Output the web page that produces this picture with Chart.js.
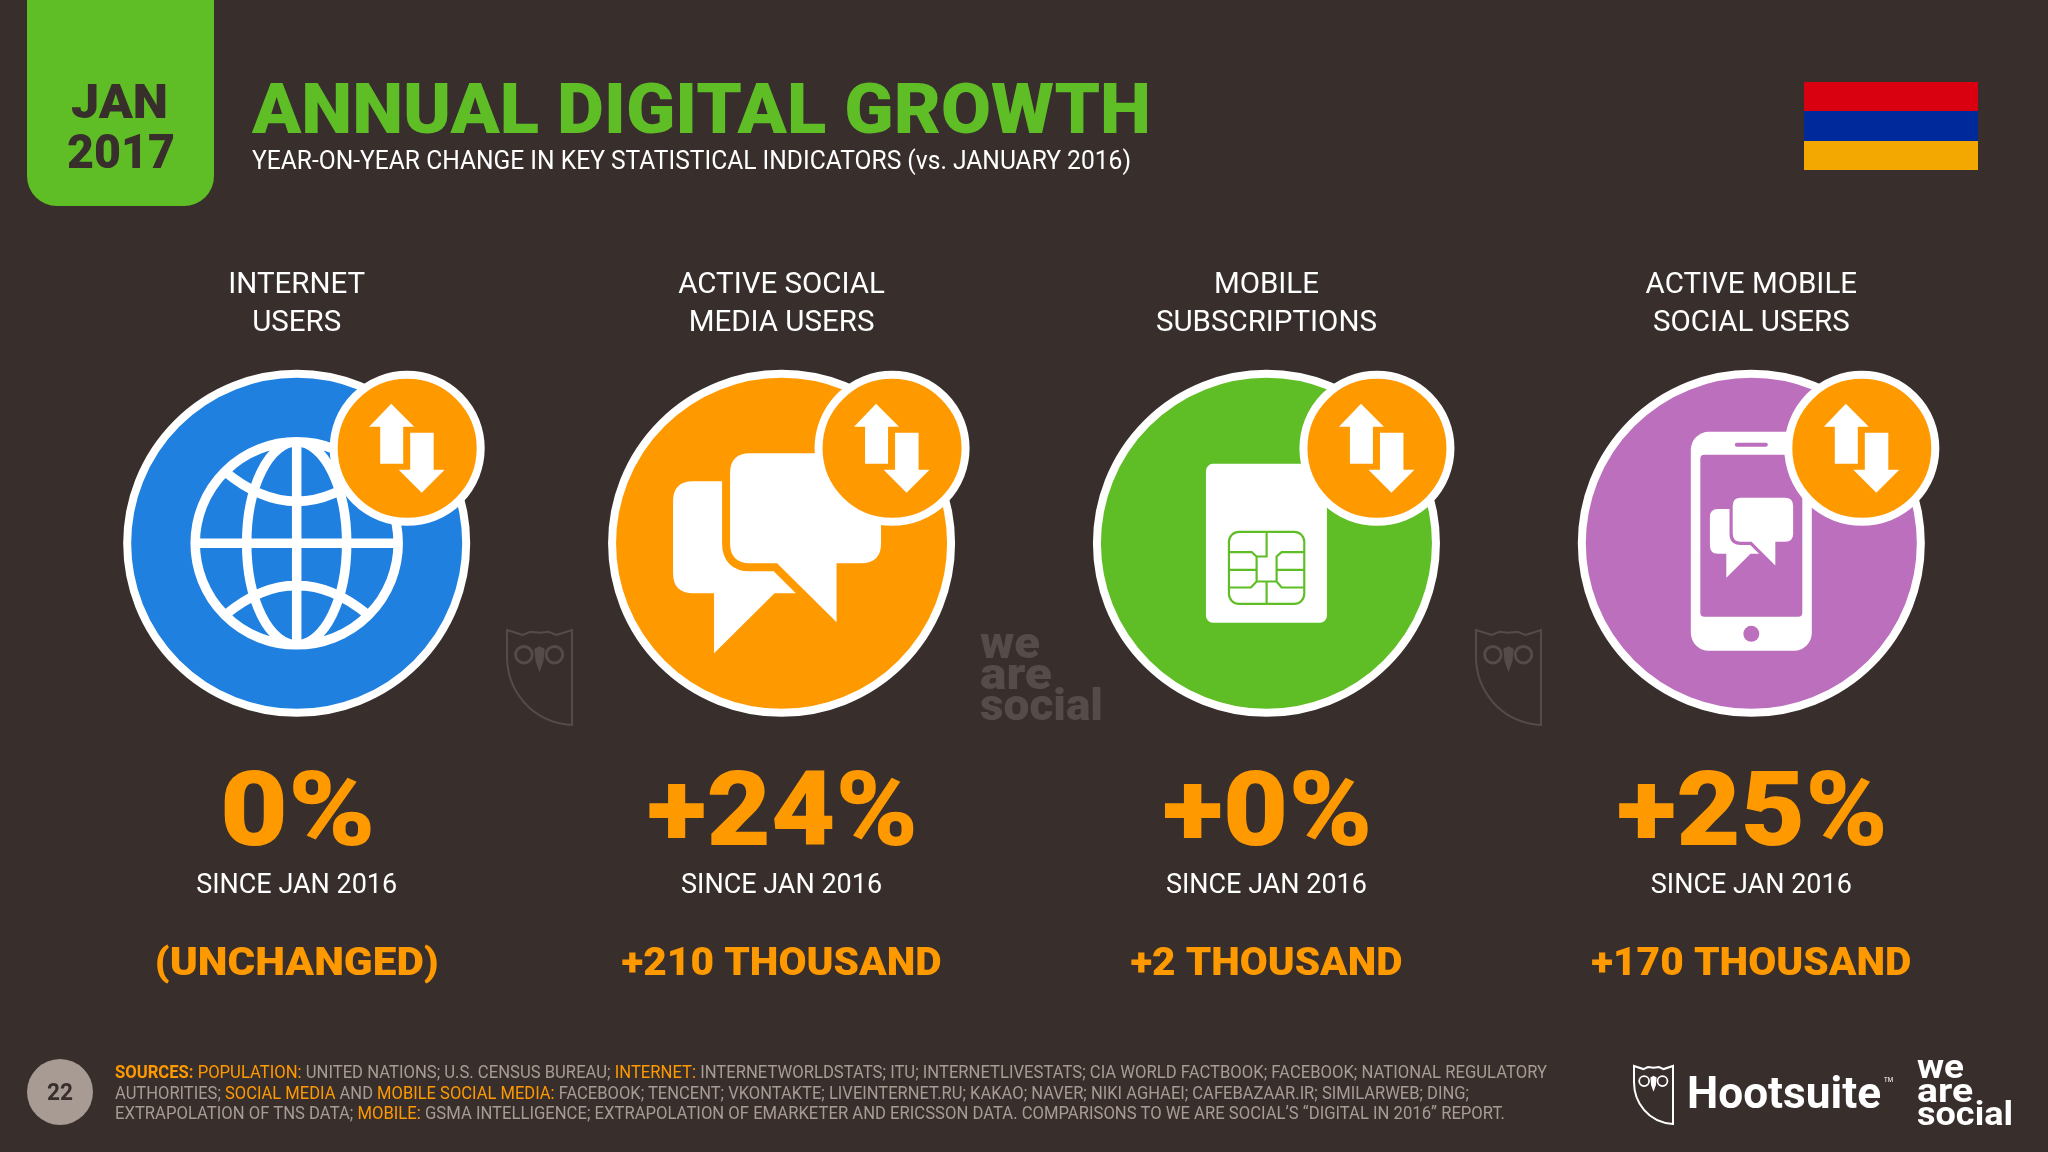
<!DOCTYPE html>
<html>
<head>
<meta charset="utf-8">
<title>Annual Digital Growth</title>
<script src="https://cdn.jsdelivr.net/npm/chart.js@4/dist/chart.umd.min.js"></script>
<style>
    html, body { margin: 0; padding: 0; background: #382f2d; }
    body { width: 2048px; height: 1152px; position: relative; overflow: hidden; font-family: Roboto, sans-serif; }
    canvas { position: absolute; left: 0; top: 0; }
    .t { position: absolute; white-space: nowrap; line-height: 1; transform-origin: left center; }
    .t span { color: #ff9900; }
    .t b { color: #ff9900; font-weight: 700; }
    #date-box { position: absolute; left: 27px; top: 0; width: 187px; height: 206px; background: #5fbd25; border-radius: 0 0 30px 30px; }
    #flag { position: absolute; left: 1804px; top: 82px; width: 174px; height: 88px; }
    #flag div { height: 29.33px; }
    #page-dot { position: absolute; left: 27px; top: 1059px; width: 66px; height: 66px; border-radius: 50%; background: #a79b93; }
</style>
</head>
<body>
<div id="date-box"></div>
<div id="flag">
    <div style="background:#d9000f"></div>
    <div style="background:#00299c"></div>
    <div style="background:#f2a800"></div>
</div>
<div id="page-dot"></div>
<canvas id="growthChart" width="2048" height="1152"></canvas>

<script>
/* ==================== DATA ==================== */

const categories = [
    ['INTERNET', 'USERS'],
    ['ACTIVE SOCIAL', 'MEDIA USERS'],
    ['MOBILE', 'SUBSCRIPTIONS'],
    ['ACTIVE MOBILE', 'SOCIAL USERS']
];
const changeLabels = ['0%', '+24%', '+0%', '+25%'];
const sinceLabels = ['SINCE JAN 2016', 'SINCE JAN 2016', 'SINCE JAN 2016', 'SINCE JAN 2016'];
const absoluteLabels = ['(UNCHANGED)', '+210 THOUSAND', '+2 THOUSAND', '+170 THOUSAND'];
const rowLabels = ['row'];

/* ==================== STYLE ==================== */

const circleColors = ['#1f80e0', '#ff9900', '#5fbd25', '#bc6fbd'];
const changeWidths = [156, 271, 210, 271];
const absoluteWidths = [284, 320, 272, 320];
const ORANGE = '#ff9900';
const WHITE = '#ffffff';
const GREY = '#a79b93';
const MARK = '#554c4a';

/* ==================== PAGE TEXT ==================== */

function addText(html, left, baseline, size, weight, color, width) {
    const el = document.createElement('div');
    el.className = 't';
    el.innerHTML = html;
    el.style.left = left + 'px';
    el.style.top = (baseline - 0.841 * size) + 'px';
    el.style.fontSize = size + 'px';
    el.style.fontWeight = weight;
    el.style.color = color;
    document.body.appendChild(el);
    if (width) {
        el.style.transform = `scaleX(${width / el.getBoundingClientRect().width})`;
    }
}

function addPageText() {
    addText('JAN', 71, 118, 49, 900, '#382f2d', 97);
    addText('2017', 67, 168, 49, 900, '#382f2d', 108);
    addText('ANNUAL DIGITAL GROWTH', 252, 133, 70, 900, '#5fbd25', 899);
    addText('YEAR-ON-YEAR CHANGE IN KEY STATISTICAL INDICATORS (vs. JANUARY 2016)', 252, 169, 26, 400, WHITE, 879);

    addText('22', 47, 1100, 24, 700, '#382f2d', 26);

    addText('<b>SOURCES:</b> <span>POPULATION:</span> UNITED NATIONS; U.S. CENSUS BUREAU; <span>INTERNET:</span> INTERNETWORLDSTATS; ITU; INTERNETLIVESTATS; CIA WORLD FACTBOOK; FACEBOOK; NATIONAL REGULATORY',
        115, 1079, 17.5, 400, GREY, 1432);
    addText('AUTHORITIES; <span>SOCIAL MEDIA</span> AND <span>MOBILE SOCIAL MEDIA:</span> FACEBOOK; TENCENT; VKONTAKTE; LIVEINTERNET.RU; KAKAO; NAVER; NIKI AGHAEI; CAFEBAZAAR.IR; SIMILARWEB; DING;',
        115, 1099.5, 17.5, 400, GREY, 1354);
    addText('EXTRAPOLATION OF TNS DATA; <span>MOBILE:</span> GSMA INTELLIGENCE; EXTRAPOLATION OF EMARKETER AND ERICSSON DATA. COMPARISONS TO WE ARE SOCIAL\u2019S \u201CDIGITAL IN 2016\u201D REPORT.',
        115, 1120, 17.5, 400, GREY, 1390);

    addText('Hootsuite', 1687, 1108, 45, 700, WHITE, 194);
    addText('TM', 1884, 1083, 7, 400, WHITE, 9);

    addText('we', 1917, 1078, 34, 700, WHITE, 47);
    addText('are', 1917, 1102, 34, 700, WHITE, 56);
    addText('social', 1917, 1125, 34, 700, WHITE, 96);

    addText('we', 980, 658, 44, 900, MARK, 60);
    addText('are', 980, 689, 44, 900, MARK, 72);
    addText('social', 980, 720, 44, 900, MARK, 123);
}

/* ==================== ICONS ==================== */

function polygon(ctx, pts) {
    ctx.beginPath();
    pts.forEach((p, i) => i ? ctx.lineTo(p[0], p[1]) : ctx.moveTo(p[0], p[1]));
    ctx.closePath();
    ctx.fill();
}

function drawBadge(ctx, x, y) {
    const cx = x + 110.5;
    const cy = y - 95;
    ctx.fillStyle = ORANGE;
    ctx.strokeStyle = WHITE;
    ctx.lineWidth = 8;
    ctx.beginPath();
    ctx.arc(cx, cy, 73.5, 0, Math.PI * 2);
    ctx.fill();
    ctx.stroke();

    ctx.fillStyle = WHITE;
    // up arrow
    polygon(ctx, [[-16, -44.5], [7, -21.5], [-4, -21.5], [-4, 15.5], [-27, 15.5], [-27, -21.5], [-38, -21.5]]
        .map(p => [cx + p[0], cy + p[1]]));
    // down arrow
    polygon(ctx, [[14.5, 44.5], [37.5, 21.5], [26.5, 21.5], [26.5, -15.5], [3, -15.5], [3, 21.5], [-8.5, 21.5]]
        .map(p => [cx + p[0], cy + p[1]]));
}

function drawGlobe(ctx, x, y) {
    ctx.save();
    ctx.translate(x, y);
    ctx.strokeStyle = WHITE;
    ctx.lineWidth = 9.5;
    ctx.beginPath();
    ctx.arc(0, 0, 101.5, 0, Math.PI * 2);
    ctx.moveTo(50, 0);
    ctx.ellipse(0, 0, 50, 101.5, 0, 0, Math.PI * 2);
    ctx.moveTo(0, -101.5);
    ctx.lineTo(0, 101.5);
    ctx.moveTo(-101.5, 0);
    ctx.lineTo(101.5, 0);
    ctx.moveTo(-72, -72);
    ctx.quadraticCurveTo(0, -12, 72, -72);
    ctx.moveTo(-72, 72);
    ctx.quadraticCurveTo(0, 12, 72, 72);
    ctx.stroke();
    ctx.restore();
}

function bubblePath(ctx, l, t, r, b, rad, tail) {
    ctx.beginPath();
    ctx.moveTo(l + rad, t);
    ctx.lineTo(r - rad, t);
    ctx.quadraticCurveTo(r, t, r, t + rad);
    ctx.lineTo(r, b - rad);
    ctx.quadraticCurveTo(r, b, r - rad, b);
    tail.forEach(p => ctx.lineTo(p[0], p[1]));
    ctx.lineTo(l + rad, b);
    ctx.quadraticCurveTo(l, b, l, b - rad);
    ctx.lineTo(l, t + rad);
    ctx.quadraticCurveTo(l, t, l + rad, t);
    ctx.closePath();
}

function drawBubbles(ctx, x, y, scale, gapColor) {
    ctx.save();
    ctx.translate(x, y);
    ctx.scale(scale, scale);
    ctx.fillStyle = WHITE;
    bubblePath(ctx, -108.5, -62, 60, 50, 20, [[11, 50], [-7, 50], [-67.5, 110], [-67.5, 50]]);
    ctx.fill();
    bubblePath(ctx, -51.5, -90, 99.5, 20, 20, [[55, 20], [55, 79], [-4.5, 20]]);
    ctx.strokeStyle = gapColor;
    ctx.lineWidth = 16;
    ctx.stroke();
    ctx.fill();
    ctx.restore();
}

function roundBox(ctx, l, t, w, h, rad) {
    ctx.beginPath();
    ctx.roundRect(l, t, w, h, rad);
    ctx.fill();
}

function drawSim(ctx, x, y) {
    ctx.save();
    ctx.translate(x, y);
    ctx.fillStyle = WHITE;
    roundBox(ctx, -60.5, -79.5, 121, 159, 7);

    // chip outlines, traced at 3x then scaled down
    ctx.translate(-51.5, -23.5);
    ctx.scale(1 / 3, 1 / 3);
    ctx.strokeStyle = circleColors[2];
    ctx.lineWidth = 6.5;
    ctx.beginPath();
    ctx.roundRect(42, 36, 226, 216, 30);
    const chipLines = [
        [[155, 36], [155, 110], [125, 110], [110, 97], [42, 97]],
        [[125, 110], [125, 185], [155, 185], [155, 252]],
        [[125, 185], [108, 203], [42, 203]],
        [[42, 150], [125, 150]],
        [[268, 97], [200, 97], [185, 110], [185, 185], [200, 203], [268, 203]],
        [[185, 150], [268, 150]],
        [[155, 185], [185, 185]]
    ];
    chipLines.forEach(line => line.forEach((p, i) => i ? ctx.lineTo(p[0], p[1]) : ctx.moveTo(p[0], p[1])));
    ctx.stroke();
    ctx.restore();
}

function drawPhone(ctx, x, y, color) {
    ctx.save();
    ctx.translate(x, y);
    ctx.fillStyle = WHITE;
    roundBox(ctx, -60.5, -111.5, 121, 219, 18);
    ctx.fillStyle = color;
    roundBox(ctx, -51, -88.5, 102, 162, 4);
    roundBox(ctx, -16.5, -100.5, 33, 4, 2);
    ctx.beginPath();
    ctx.arc(0, 90.5, 8, 0, Math.PI * 2);
    ctx.fill();
    ctx.restore();
    drawBubbles(ctx, x + 2, y - 9.5, 0.4, color);
}

function drawOwl(ctx, left, top, w, h, color, lineWidth) {
    const px = (X, Y) => [left + X * w, top + Y * h];
    ctx.save();
    ctx.strokeStyle = color;
    ctx.fillStyle = color;
    ctx.lineWidth = lineWidth;
    ctx.beginPath();
    const outline = [[0, 0], [0.24, 0.053], [0.36, 0.018], [0.5, 0.03], [0.64, 0.018], [0.76, 0.053], [1, 0], [1, 1]];
    outline.forEach((p, i) => {
        const q = px(p[0], p[1]);
        i ? ctx.lineTo(q[0], q[1]) : ctx.moveTo(q[0], q[1]);
    });
    const c1 = px(0.35, 0.97), c2 = px(0, 0.62), end = px(0, 0.28);
    ctx.bezierCurveTo(c1[0], c1[1], c2[0], c2[1], end[0], end[1]);
    ctx.closePath();
    ctx.stroke();

    const r = 0.15 * w;
    [[0.26, 0.26], [0.73, 0.26]].forEach(e => {
        const q = px(e[0], e[1]);
        ctx.lineWidth = r * 0.3;
        ctx.beginPath();
        ctx.arc(q[0], q[1], r * 0.85, 0, Math.PI * 2);
        ctx.stroke();
    });
    polygon(ctx, [px(0.5, 0.445), px(0.44, 0.33), px(0.42, 0.2), px(0.5, 0.17), px(0.58, 0.2), px(0.56, 0.33)]);
    ctx.restore();
}

const iconDrawers = [
    (ctx, x, y) => drawGlobe(ctx, x, y),
    (ctx, x, y) => drawBubbles(ctx, x, y, 1, circleColors[1]),
    (ctx, x, y) => drawSim(ctx, x, y),
    (ctx, x, y) => drawPhone(ctx, x, y, circleColors[3])
];

/* ==================== LABELS ==================== */

function fitText(ctx, str, cx, baseline, width) {
    const natural = ctx.measureText(str).width;
    const sx = width ? width / natural : 1;
    ctx.save();
    ctx.translate(cx, baseline);
    ctx.scale(sx, 1);
    ctx.fillText(str, 0, 0);
    ctx.restore();
}

const iconPlugin = {
    id: 'iconPlugin',
    beforeDatasetsDraw(chart) {
        const ctx = chart.ctx;
        drawOwl(ctx, 507, 630, 65, 95, MARK, 2);
        drawOwl(ctx, 1476, 630, 65, 95, MARK, 2);
        drawOwl(ctx, 1634, 1066, 39, 58, WHITE, 2);
    },
    afterDatasetsDraw(chart) {
        const ctx = chart.ctx;
        ctx.save();
        ctx.textAlign = 'center';
        ctx.textBaseline = 'alphabetic';
        chart.getDatasetMeta(0).data.forEach((point, i) => {
            iconDrawers[i](ctx, point.x, point.y);
            drawBadge(ctx, point.x, point.y);

            ctx.fillStyle = ORANGE;
            ctx.font = '900 103px Roboto';
            fitText(ctx, changeLabels[i], point.x + 1, point.y + 301.5, changeWidths[i]);

            ctx.fillStyle = WHITE;
            ctx.font = '400 28px Roboto';
            fitText(ctx, sinceLabels[i], point.x, point.y + 349.5, 201);

            ctx.fillStyle = ORANGE;
            ctx.font = '900 38px Roboto';
            fitText(ctx, absoluteLabels[i], point.x, point.y + 431.5, absoluteWidths[i]);
        });
        ctx.restore();
    }
};

/* ==================== CHART ==================== */

// The big circles would otherwise push the chart area in by their own radius
class CircleRowController extends Chart.LineController {
    getMaxOverflow() {
        return 0;
    }
}
CircleRowController.id = 'circleRow';
CircleRowController.defaults = Chart.LineController.defaults;
Chart.register(CircleRowController);

function initChart() {
    const ctx = document.getElementById('growthChart').getContext('2d');
    new Chart(ctx, {
        type: 'circleRow',
        data: {
            labels: categories,
            datasets: [{
                data: categories.map(() => rowLabels[0]),
                showLine: false,
                clip: false,
                pointRadius: 169.5,
                pointBorderWidth: 8,
                pointBackgroundColor: circleColors,
                pointBorderColor: WHITE
            }]
        },
        options: {
            responsive: false,
            animation: false,
            events: [],
            layout: { padding: { left: 54.25, right: 54.25, top: 258, bottom: 424 } },
            plugins: {
                legend: { display: false },
                tooltip: { enabled: false }
            },
            scales: {
                x: {
                    type: 'category',
                    position: 'top',
                    offset: true,
                    border: { display: false },
                    grid: { display: false },
                    ticks: {
                        color: WHITE,
                        autoSkip: false,
                        maxRotation: 0,
                        padding: 8,
                        font: { family: 'Roboto', size: 29.5, weight: '400', lineHeight: 1.3 }
                    }
                },
                y: {
                    type: 'category',
                    labels: rowLabels,
                    offset: true,
                    display: false
                }
            }
        },
        plugins: [iconPlugin]
    });
}

document.fonts.ready.then(() => {
    initChart();
    addPageText();
});
</script>
</body>
</html>
